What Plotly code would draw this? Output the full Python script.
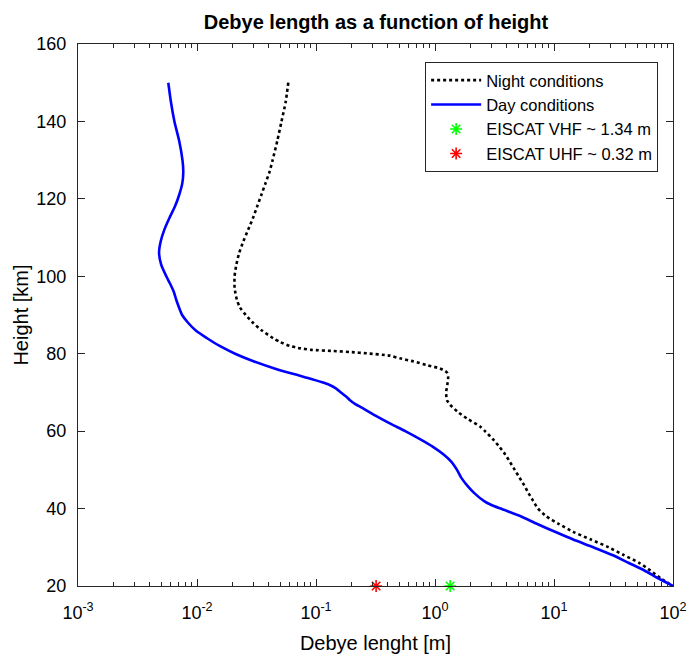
import plotly.graph_objects as go

# ---- data ----
height_night = [150, 145, 140, 135, 130, 127, 124, 121, 118, 115, 112, 109, 106, 103, 100,
                97, 94, 92, 90, 88, 86, 84, 83, 82, 81.5, 81, 80.7, 80.4, 80.1, 79.5, 78.8,
                78, 77, 76.2, 75.5, 75, 74, 72, 70, 68, 66.8, 65, 63.3, 61.2, 60, 58, 56,
                54, 52, 50, 48, 46, 44, 42, 40, 38, 36, 34, 32, 30, 28, 26, 24, 22, 20]
debye_night = [0.0585, 0.0556, 0.0513, 0.0473, 0.0432, 0.0407, 0.0376, 0.0347, 0.0320, 0.0295,
               0.0269, 0.0245, 0.0226, 0.0214, 0.0207, 0.0207, 0.0216, 0.0229, 0.0257, 0.0295,
               0.0351, 0.0437, 0.0501, 0.0603, 0.0708, 0.0912, 0.140, 0.200, 0.267, 0.417,
               0.508, 0.661, 0.871, 1.10, 1.22, 1.27, 1.29, 1.27, 1.24, 1.26, 1.34, 1.55,
               1.85, 2.39, 2.63, 3.05, 3.47, 3.89, 4.27, 4.68, 5.13, 5.62, 6.10, 6.68, 7.33,
               8.61, 11.0, 14.5, 20.4, 28.8, 38.5, 51.9, 64.6, 78.5, 100.0]

height_day = [150, 145, 140, 135, 130, 127, 124, 121, 118, 115, 112, 109, 106, 103, 100,
              98, 96, 94, 92, 90, 88, 86, 84, 82, 80, 78, 76, 74, 72, 71, 70, 69, 68, 67,
              66, 64, 62, 60, 58, 56, 54, 52, 50, 48, 46, 44, 42, 41, 40, 38, 36, 34, 32,
              30, 28, 26, 24, 22, 20]
debye_day = [0.00574, 0.00604, 0.00646, 0.00708, 0.00755, 0.00767, 0.00752, 0.00708, 0.00652,
             0.00585, 0.00531, 0.00495, 0.00480, 0.00500, 0.00552, 0.00596, 0.00638, 0.00668,
             0.00705, 0.00750, 0.00841, 0.00977, 0.01216, 0.0155, 0.0209, 0.0302, 0.0468,
             0.0794, 0.129, 0.148, 0.162, 0.178, 0.193, 0.214, 0.245, 0.316, 0.417, 0.562,
             0.741, 0.955, 1.175, 1.38, 1.53, 1.66, 1.86, 2.14, 2.57, 2.95, 3.55, 5.25, 7.24,
             10.2, 14.5, 21.4, 30.9, 42.2, 57.5, 75.0, 100.0]

radar_names = ["EISCAT VHF ~ 1.34 m", "EISCAT UHF ~ 0.32 m"]
radar_debye = [1.34, 0.32]
radar_height = [20, 20]
radar_colors = ["#00ff00", "#ff0000"]

x_decades = [-3, -2, -1, 0, 1, 2]
x_tick_text = ["10<sup>-3</sup>", "10<sup>-2</sup>", "10<sup>-1</sup>",
               "10<sup>0</sup>", "10<sup>1</sup>", "10<sup>2</sup>"]
y_tick_vals = [20, 40, 60, 80, 100, 120, 140, 160]

FONT = "Liberation Sans, Arial, Helvetica, sans-serif"
AXC = "#262626"

x_tick_vals = [10.0 ** k for k in x_decades]
x_minor_vals = [m * 10.0 ** k for k in x_decades[:-1] for m in range(2, 10)]

fig = go.Figure()
fig.add_trace(go.Scatter(
    x=debye_night, y=height_night, mode="lines", name="Night conditions",
    line=dict(color="black", width=2.6, dash="dot", shape="spline", smoothing=0.6),
))
fig.add_trace(go.Scatter(
    x=debye_day, y=height_day, mode="lines", name="Day conditions",
    line=dict(color="#0000ff", width=2.6, shape="spline", smoothing=0.7),
))
for name, xv, yv, col in zip(radar_names, radar_debye, radar_height, radar_colors):
    fig.add_trace(go.Scatter(
        x=[xv], y=[yv], mode="markers", name=name, cliponaxis=False,
        marker=dict(symbol="asterisk-open", size=10, color=col, line=dict(color=col, width=1.6)),
    ))

fig.update_layout(
    width=688, height=657, autosize=False,
    margin=dict(l=78, r=15, t=44, b=71, autoexpand=False),
    paper_bgcolor="white", plot_bgcolor="white",
    font=dict(family=FONT, size=18, color="black"),
    title=dict(text="<b>Debye length as a function of height</b>", x=0.5465, xanchor="center",
               y=0.967, yanchor="middle", font=dict(family=FONT, size=20, color="black")),
    showlegend=True,
    legend=dict(x=0.975, xanchor="right", y=0.967, yanchor="top",
                bgcolor="white", bordercolor=AXC, borderwidth=1,
                font=dict(family=FONT, size=16.5, color="black"),
                itemwidth=50, tracegroupgap=0),
)
fig.update_xaxes(
    type="log", range=[-3, 2], automargin=False,
    tickmode="array", tickvals=x_tick_vals, ticktext=x_tick_text,
    ticks="inside", ticklen=7, tickwidth=1, tickcolor=AXC,
    minor=dict(tickmode="array", tickvals=x_minor_vals, ticks="inside", ticklen=4,
               tickwidth=1, tickcolor=AXC, showgrid=False),
    showline=True, linecolor=AXC, linewidth=1, mirror="ticks",
    showgrid=False, zeroline=False, ticklabelstandoff=10,
    tickfont=dict(family=FONT, size=18, color="black"),
    title=dict(text="Debye lenght [m]", font=dict(family=FONT, size=20, color="black"), standoff=14),
)
fig.update_yaxes(
    range=[20, 160], tickmode="array", tickvals=y_tick_vals, automargin=False,
    ticks="inside", ticklen=7, tickwidth=1, tickcolor=AXC,
    showline=True, linecolor=AXC, linewidth=1, mirror="ticks",
    showgrid=False, zeroline=False, ticklabelstandoff=7,
    tickfont=dict(family=FONT, size=18, color="black"),
    title=dict(text="Height [km]", font=dict(family=FONT, size=20, color="black"), standoff=2),
)

fig.write_html("out.html")
